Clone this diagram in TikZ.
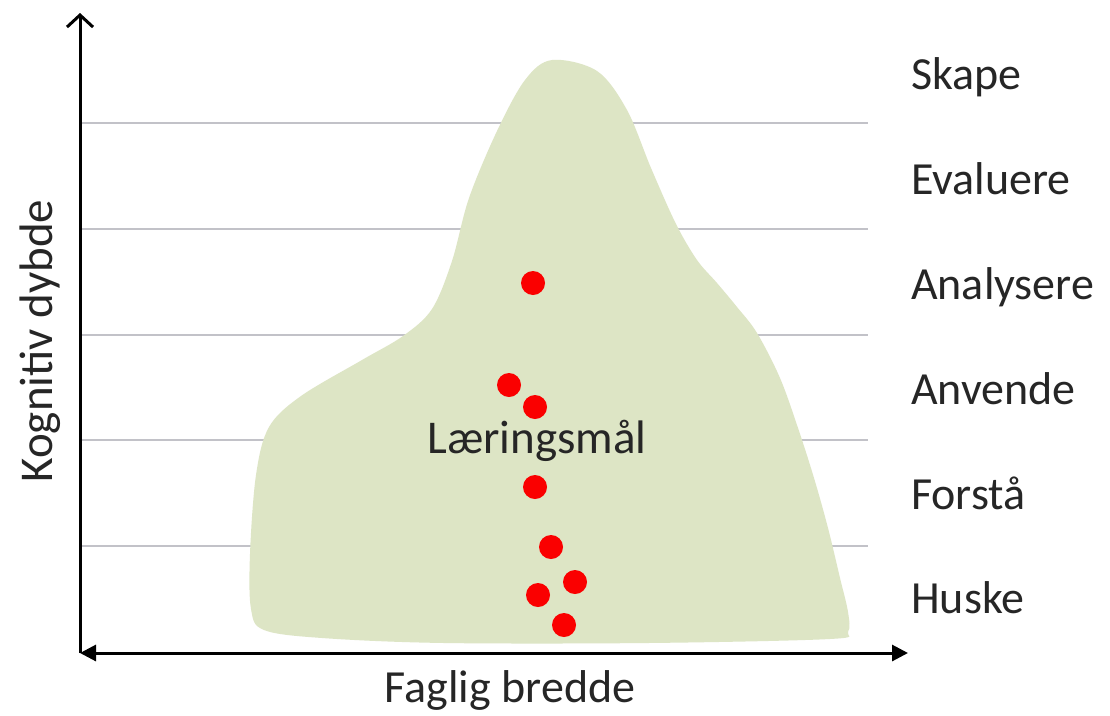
\documentclass[tikz,border=0pt]{standalone}
\usepackage{fontspec}
\setmainfont{Carlito}
\usetikzlibrary{arrows.meta}
\definecolor{blobgreen}{RGB}{221,229,197}
\definecolor{gridgray}{RGB}{194,194,200}
\definecolor{txt}{RGB}{38,38,38}
\definecolor{dotred}{RGB}{250,0,0}
\tikzset{
  gridline/.style={draw=gridgray, line width=2pt},
  axis/.style={draw=black, line width=3pt},
  level/.style={anchor=base west, text=txt, inner sep=0pt, font=\fontsize{46}{54}\selectfont},
  axislabel/.style={anchor=base, text=txt, inner sep=0pt, font=\fontsize{46}{54}\selectfont},
  goal/.style={circle, fill=dotred, minimum size=24pt, inner sep=0pt}
}
\begin{document}
\begin{tikzpicture}[x=1pt,y=-1pt]
\useasboundingbox[fill=white] (0,0) rectangle (1110,715);
% axes and grid coordinates
\coordinate (O) at (80,653);
\coordinate (Ytop) at (80,13);
\coordinate (Xend) at (908,653);
\coordinate (g1a) at (80,123); \coordinate (g1b) at (868,123);
\coordinate (g2a) at (80,229); \coordinate (g2b) at (868,229);
\coordinate (g3a) at (80,335); \coordinate (g3b) at (868,335);
\coordinate (g4a) at (80,440); \coordinate (g4b) at (868,440);
\coordinate (g5a) at (80,546); \coordinate (g5b) at (868,546);
% grid lines
\draw[gridline] (g1a) -- (g1b);
\draw[gridline] (g2a) -- (g2b);
\draw[gridline] (g3a) -- (g3b);
\draw[gridline] (g4a) -- (g4b);
\draw[gridline] (g5a) -- (g5b);
% blob on top of the grid lines
\fill[blobgreen] plot[smooth cycle, tension=0.55] coordinates {
(552,60) (597,71) (627,110) (651,168) (676,224) (697,260) (717,283) (737,307)
(757,333) (780,378) (798,428) (814,478) (828,528) (840,578) (848,612) (848,632)
(830,639) (648,643)
(444,643) (322,638) (264,630) (251,609) (250,554) (256,475) (269,427) (301,396)
(362,360) (403,336) (432,309) (452,261) (469,198) (497,131) (525,80)};
% axes
\draw[axis, -{Straight Barb[length=12pt,width=26pt,line width=3pt]}] (O) -- (Ytop);
\draw[axis, {Triangle[length=16pt,width=16pt]}-{Triangle[length=16pt,width=16pt]}] (O) -- (Xend);
% level labels
\node[level] (skape) at (911,89) {Skape};
\node[level] (evaluere) at (911,194) {Evaluere};
\node[level] (analysere) at (911,299) {Analysere};
\node[level] (anvende) at (911,404) {Anvende};
\node[level] (forsta) at (911,509) {Forstå};
\node[level] (huske) at (911,613) {Huske};
% axis labels
\node[axislabel] (xlabel) at (510,702) {Faglig bredde};
\node[axislabel, rotate=90, font=\fontsize{47}{54}\selectfont] (ylabel) at (52,341) {Kognitiv dybde};
% learning goals
\node[goal] (d1) at (533,283) {};
\node[goal] (d2) at (509,385) {};
\node[goal] (d3) at (535,407) {};
\node[goal] (d4) at (535,487) {};
\node[goal] (d5) at (551,547) {};
\node[goal] (d6) at (575,582) {};
\node[goal] (d7) at (538,595) {};
\node[goal] (d8) at (564,625) {};
\node[axislabel, font=\fontsize{47}{54}\selectfont] (goals) at (537,453) {Læringsmål};
\end{tikzpicture}
\end{document}
